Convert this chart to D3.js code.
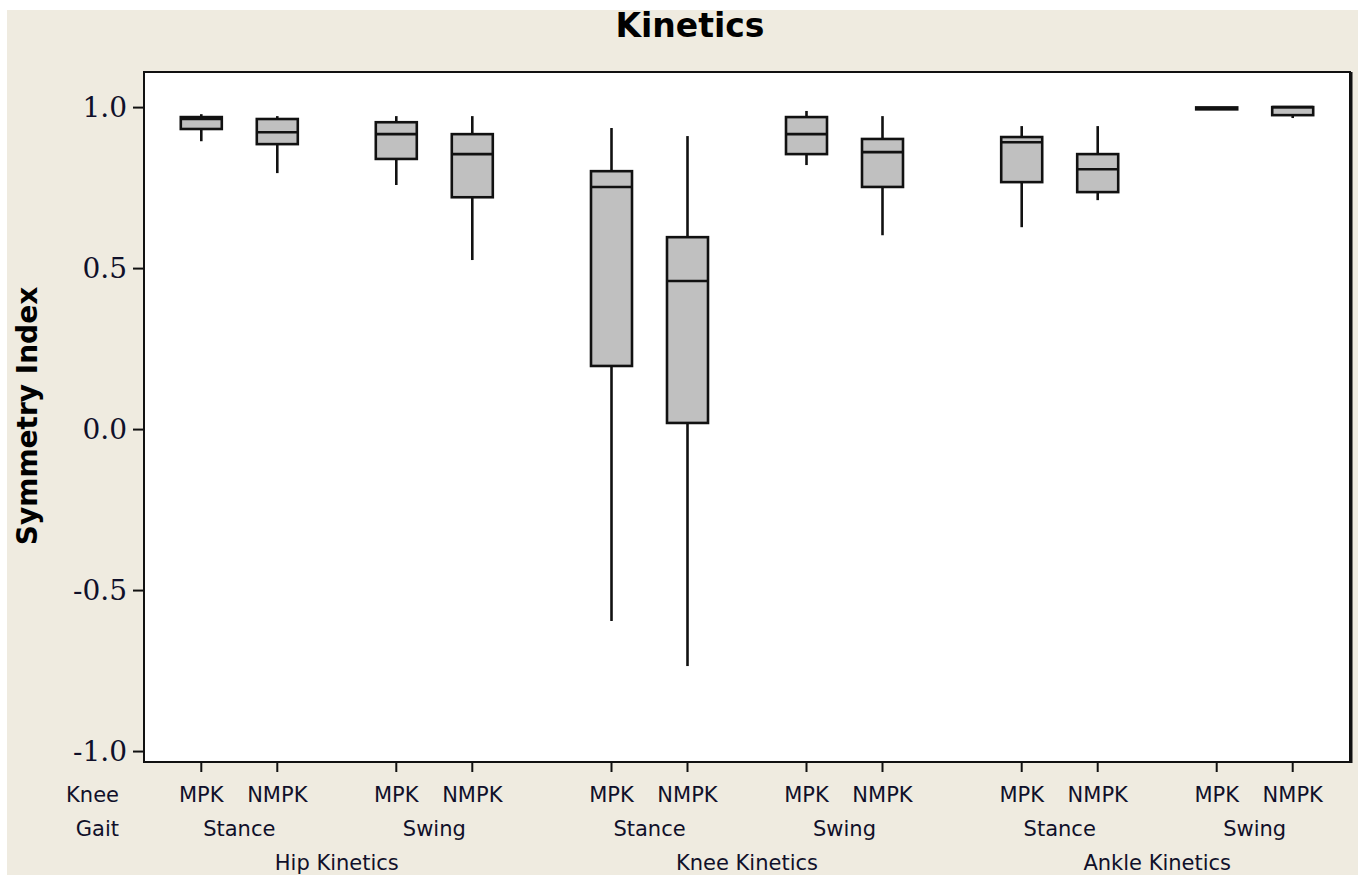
<!DOCTYPE html>
<html>
<head>
<meta charset="utf-8">
<script src="https://cdn.jsdelivr.net/npm/d3@7"></script>
<style>
  html, body { margin: 0; padding: 0; background: #ffffff; }
  svg { display: block; }
</style>
</head>
<body>
<svg id="chart" width="1358" height="875"></svg>
<script>
// Hierarchical categories: joint > gait phase > knee group
const joints = ["Hip Kinetics", "Knee Kinetics", "Ankle Kinetics"];
const gaits = ["Stance", "Swing"];
const knees = ["MPK", "NMPK"];

// Five-number summaries, in joint / gait / knee order
const mins    = [0.894, 0.795, 0.758, 0.525, -0.596, -0.736, 0.820, 0.602, 0.627, 0.711, 0.993, 0.966];
const q1s     = [0.932, 0.885, 0.839, 0.720,  0.196,  0.019, 0.854, 0.752, 0.767, 0.736, 0.993, 0.975];
const medians = [0.963, 0.922, 0.916, 0.854,  0.752,  0.460, 0.916, 0.860, 0.891, 0.807, 0.996, 1.000];
const q3s     = [0.969, 0.963, 0.953, 0.916,  0.801,  0.596, 0.969, 0.901, 0.907, 0.854, 0.999, 1.000];
const maxs    = [0.978, 0.972, 0.972, 0.972,  0.935,  0.910, 0.988, 0.972, 0.941, 0.941, 0.999, 1.000];

const yTicks = [-1.0, -0.5, 0.0, 0.5, 1.0];

const title = "Kinetics";
const yTitle = "Symmetry Index";
const rowTitles = ["Knee", "Gait"];

// Build the table of boxes
const boxes = [];
let idx = 0;
joints.forEach(j => gaits.forEach(g => knees.forEach(k => {
  boxes.push({ joint: j, gait: g, knee: k,
    min: mins[idx], q1: q1s[idx], med: medians[idx], q3: q3s[idx], max: maxs[idx] });
  idx++;
})));

const W = 1358, H = 875;
const frame = { left: 144, top: 72, right: 1350, bottom: 762 };
const boxW = 41;
const ink = "#111111";
const sw = 2.6;

const svg = d3.select("#chart");

// page background
svg.append("rect").attr("x", 7).attr("y", 10).attr("width", W - 7).attr("height", H - 10)
  .attr("fill", "#efebe0");

// scales
const jointX = d3.scalePoint().domain(joints).range([frame.left, frame.right]).padding(0.47);
const gaitX = d3.scalePoint().domain(gaits).range([-97.5, 97.5]);
const kneeX = d3.scalePoint().domain(knees).range([-38, 38]);
const cx = d => jointX(d.joint) + gaitX(d.gait) + kneeX(d.knee);

const y = d3.scaleLinear().domain([-1.034, 1.109]).range([frame.bottom, frame.top]);

// plot area
svg.append("rect")
  .attr("x", frame.left).attr("y", frame.top)
  .attr("width", frame.right - frame.left).attr("height", frame.bottom - frame.top)
  .attr("fill", "#ffffff");

// boxes
const g = svg.append("g").attr("class", "boxes");
const bx = g.selectAll("g.box").data(boxes).join("g").attr("class", "box");

bx.append("line")
  .attr("x1", cx).attr("x2", cx)
  .attr("y1", d => y(d.max)).attr("y2", d => y(d.q3))
  .attr("stroke", ink).attr("stroke-width", sw);
bx.append("line")
  .attr("x1", cx).attr("x2", cx)
  .attr("y1", d => y(d.q1)).attr("y2", d => y(d.min))
  .attr("stroke", ink).attr("stroke-width", sw);
bx.append("rect")
  .attr("x", d => cx(d) - boxW / 2)
  .attr("y", d => y(d.q3))
  .attr("width", boxW)
  .attr("height", d => Math.max(0, y(d.q1) - y(d.q3)))
  .attr("fill", "#c0c0c0")
  .attr("stroke", ink).attr("stroke-width", sw);
bx.append("line")
  .attr("x1", d => cx(d) - boxW / 2).attr("x2", d => cx(d) + boxW / 2)
  .attr("y1", d => y(d.med)).attr("y2", d => y(d.med))
  .attr("stroke", ink).attr("stroke-width", sw);

// frame border
svg.append("rect")
  .attr("x", frame.left).attr("y", frame.top)
  .attr("width", frame.right - frame.left).attr("height", frame.bottom - frame.top)
  .attr("fill", "none").attr("stroke", ink).attr("stroke-width", 2);
svg.append("line")
  .attr("x1", frame.right + 1).attr("x2", frame.right + 1)
  .attr("y1", frame.top).attr("y2", frame.bottom + 1)
  .attr("stroke", ink).attr("stroke-width", 3);

// y axis, with plain hyphen for negative numbers
const loc = d3.formatLocale({ decimal: ".", thousands: ",", grouping: [3], currency: ["", ""], minus: "-" });
const yAxis = d3.axisLeft(y).tickValues(yTicks).tickFormat(loc.format(".1f"))
  .tickSize(11).tickSizeOuter(0).tickPadding(6);
const ya = svg.append("g").attr("transform", `translate(${frame.left},0)`).call(yAxis);
ya.select(".domain").remove();
ya.selectAll(".tick line").attr("stroke", ink).attr("stroke-width", 2);
ya.selectAll(".tick text")
  .attr("fill", "#10102a")
  .style("font-family", "'DejaVu Serif', serif")
  .style("font-size", "28px");

// x tick marks at every box
const xa = svg.append("g").attr("transform", `translate(0,${frame.bottom})`);
xa.selectAll("line.xt").data(boxes).join("line").attr("class", "xt")
  .attr("x1", cx).attr("x2", cx).attr("y1", 0).attr("y2", 10)
  .attr("stroke", ink).attr("stroke-width", 2);

const labelFont = "'DejaVu Sans', Verdana, sans-serif";
const labelColor = "#10102a";

// row 1: knee group
svg.append("g").selectAll("text").data(boxes).join("text")
  .attr("x", cx).attr("y", 802)
  .attr("text-anchor", "middle")
  .style("font-family", labelFont).style("font-size", "21px").attr("fill", labelColor)
  .text(d => d.knee);

// row 2: gait phase
const gaitCells = [];
joints.forEach(j => gaits.forEach(gp => gaitCells.push({ joint: j, gait: gp })));
svg.append("g").selectAll("text").data(gaitCells).join("text")
  .attr("x", d => jointX(d.joint) + gaitX(d.gait)).attr("y", 836)
  .attr("text-anchor", "middle")
  .style("font-family", labelFont).style("font-size", "21px").attr("fill", labelColor)
  .text(d => d.gait);

// row 3: joint
svg.append("g").selectAll("text").data(joints).join("text")
  .attr("x", d => jointX(d)).attr("y", 870)
  .attr("text-anchor", "middle")
  .style("font-family", labelFont).style("font-size", "21px").attr("fill", labelColor)
  .text(d => d);

// row titles
svg.append("g").selectAll("text").data(rowTitles).join("text")
  .attr("x", 119).attr("y", (d, i) => 802 + i * 34)
  .attr("text-anchor", "end")
  .style("font-family", labelFont).style("font-size", "21px").attr("fill", labelColor)
  .text(d => d);

// chart title
svg.append("text")
  .attr("x", 690).attr("y", 37)
  .attr("text-anchor", "middle")
  .style("font-family", labelFont).style("font-size", "33px").style("font-weight", "bold")
  .attr("fill", "#000")
  .text(title);

// y axis title
svg.append("text")
  .attr("transform", `translate(37,416) rotate(-90)`)
  .attr("text-anchor", "middle")
  .style("font-family", labelFont).style("font-size", "28px").style("font-weight", "bold")
  .attr("fill", "#000")
  .text(yTitle);
</script>
</body>
</html>
